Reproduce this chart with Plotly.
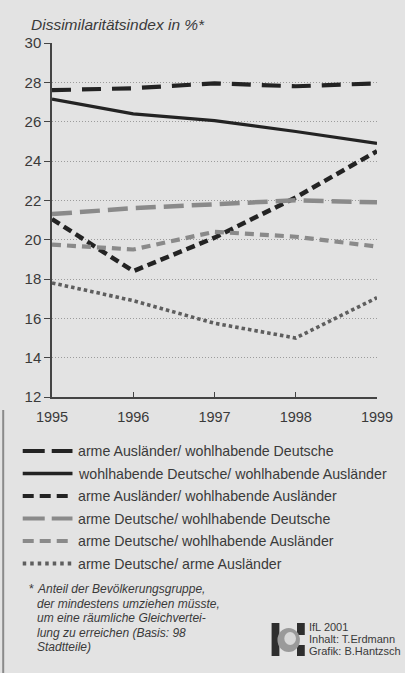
import plotly.graph_objects as go

# ---------------- data ----------------
years = [1995, 1996, 1997, 1998, 1999]
y_ticks = [12, 14, 16, 18, 20, 22, 24, 26, 28, 30]

names = [
    "arme Ausländer/ wohlhabende Deutsche",
    "wohlhabende Deutsche/ wohlhabende Ausländer",
    "arme Ausländer/ wohlhabende Ausländer",
    "arme Deutsche/ wohlhabende Deutsche",
    "arme Deutsche/ wohlhabende Ausländer",
    "arme Deutsche/ arme Ausländer",
]
arme_ausl_wohl_dt = [27.6, 27.7, 27.95, 27.8, 27.95]
wohl_dt_wohl_ausl = [27.15, 26.4, 26.05, 25.5, 24.9]
arme_ausl_wohl_ausl = [21.05, 18.4, 20.1, 22.15, 24.5]
arme_dt_wohl_dt = [21.3, 21.6, 21.8, 22.0, 21.9]
arme_dt_wohl_ausl = [19.75, 19.5, 20.4, 20.15, 19.65]
arme_dt_arme_ausl = [17.8, 16.9, 15.75, 15.0, 17.05]

series = [arme_ausl_wohl_dt, wohl_dt_wohl_ausl, arme_ausl_wohl_ausl,
          arme_dt_wohl_dt, arme_dt_wohl_ausl, arme_dt_arme_ausl]

footnote = ["Anteil der Bevölkerungsgruppe,",
            "der mindestens umziehen müsste,",
            "um eine räumliche Gleichvertei-",
            "lung zu erreichen (Basis: 98",
            "Stadtteile)"]
credits = ["IfL 2001", "Inhalt: T.Erdmann", "Grafik: B.Hantzsch"]

# ---------------- styles ----------------
BLACK = "#232323"
GRAY = "#8a8a8a"
DOT = "#5e5e5e"
styles = [
    dict(color=BLACK, width=4.2, dash="19px,11px"),
    dict(color=BLACK, width=3.2, dash="solid"),
    dict(color=BLACK, width=4.5, dash="9px,5px"),
    dict(color=GRAY, width=4.5, dash="20px,8px"),
    dict(color=GRAY, width=4.2, dash="9px,6px"),
    dict(color=DOT, width=3.6, dash="3.5px,3px"),
]
legend_dash = ["22px,7px", "solid", "11px,6px", "22px,7px", "11px,6px", "3.5px,4px"]

W, H = 405, 673
L, R, T, B = 52, 385, 43, 397
FONT = "Liberation Sans, Arial, sans-serif"
TXT = "#3a3a3a"


def px(x):
    return (x - L) / (R - L)


def py(y):
    return (B - y) / (B - T)


fig = go.Figure()
for name, vals, st in zip(names, series, styles):
    fig.add_trace(go.Scatter(x=years, y=vals, mode="lines", name=name,
                             line=st, showlegend=False, hoverinfo="skip"))

annotations = []
shapes = []

# title
annotations.append(dict(text="<i>Dissimilaritätsindex in %*</i>", x=px(28), y=py(24),
                        xref="paper", yref="paper", xanchor="left", yanchor="middle",
                        showarrow=False, font=dict(family=FONT, size=15.5, color=TXT)))

# manual legend
leg_y = [451, 473.5, 496, 518.5, 541, 563.5]
for i, (name, st) in enumerate(zip(names, styles)):
    yy = leg_y[i]
    shapes.append(dict(type="line", xref="paper", yref="paper",
                       x0=px(22), x1=px(73), y0=py(yy), y1=py(yy),
                       line=dict(color=st["color"], width=4 if i != 1 else 3.4,
                                 dash=legend_dash[i])))
    annotations.append(dict(text=name, x=px(77), y=py(yy), xref="paper", yref="paper",
                            xanchor="left", yanchor="middle", showarrow=False,
                            font=dict(family=FONT, size=14.2, color=TXT)))

# footnote
fn_y = [589, 603.5, 618, 632.5, 647]
annotations.append(dict(text="*", x=px(26), y=py(fn_y[0]), xref="paper", yref="paper",
                        xanchor="left", yanchor="middle", showarrow=False,
                        font=dict(family=FONT, size=12.5, color=TXT)))
for line, yy in zip(footnote, fn_y):
    annotations.append(dict(text="<i>" + line + "</i>", x=px(35), y=py(yy),
                            xref="paper", yref="paper", xanchor="left", yanchor="middle",
                            showarrow=False, font=dict(family=FONT, size=12, color=TXT)))

# credits
cr_y = [627, 639, 651]
for line, yy in zip(credits, cr_y):
    annotations.append(dict(text=line, x=px(313), y=py(yy), xref="paper", yref="paper",
                            xanchor="left", yanchor="middle", showarrow=False,
                            font=dict(family=FONT, size=11, color=TXT)))

# logo
def rect(x0, y0, x1, y1, color):
    return dict(type="rect", xref="paper", yref="paper", x0=px(x0), x1=px(x1),
                y0=py(y0), y1=py(y1), fillcolor=color, line=dict(width=0))

shapes.append(rect(277, 623, 285, 656, "#2e2e2e"))
shapes.append(rect(303, 623, 311, 635, "#2e2e2e"))
shapes.append(rect(303, 645, 311, 656, "#2e2e2e"))
shapes.append(dict(type="circle", xref="paper", yref="paper", x0=px(283), x1=px(306),
                   y0=py(628), y1=py(652), fillcolor="#9a9a9a", line=dict(width=0)))
shapes.append(dict(type="circle", xref="paper", yref="paper", x0=px(290), x1=px(302),
                   y0=py(632), y1=py(645), fillcolor="#d8d8d8", line=dict(width=0)))

# scan edge line
shapes.append(dict(type="line", xref="paper", yref="paper", x0=px(2), x1=px(2),
                   y0=py(410), y1=py(673), line=dict(color="#8a8a8a", width=2)))

fig.update_layout(
    width=W, height=H,
    margin=dict(l=L, r=W - R, t=T, b=H - B),
    paper_bgcolor="#e3e3e3", plot_bgcolor="rgba(0,0,0,0)",
    showlegend=False,
    annotations=annotations, shapes=shapes,
    font=dict(family=FONT, color=TXT),
)
fig.update_xaxes(range=[1995, 1999], tickvals=years, ticktext=[str(y) for y in years],
                 ticks="inside", ticklen=5, tickwidth=1.2, tickcolor="#444",
                 showline=True, linecolor="#444", linewidth=1.5,
                 showgrid=False, zeroline=False, ticklabelstandoff=6,
                 tickfont=dict(family=FONT, size=14.5, color=TXT))
fig.update_yaxes(range=[12, 30], tickvals=y_ticks,
                 ticks="outside", ticklen=6, tickwidth=1.2, tickcolor="#444",
                 showline=True, linecolor="#444", linewidth=1.5,
                 showgrid=True, gridcolor="#9c9c9c", gridwidth=1, griddash="1px,2px",
                 zeroline=False,
                 tickfont=dict(family=FONT, size=15, color=TXT))

fig.write_html("out.html", config={"displayModeBar": False},
               post_script="document.body.style.margin='0px';"
                           "document.body.style.background='#e3e3e3';")
